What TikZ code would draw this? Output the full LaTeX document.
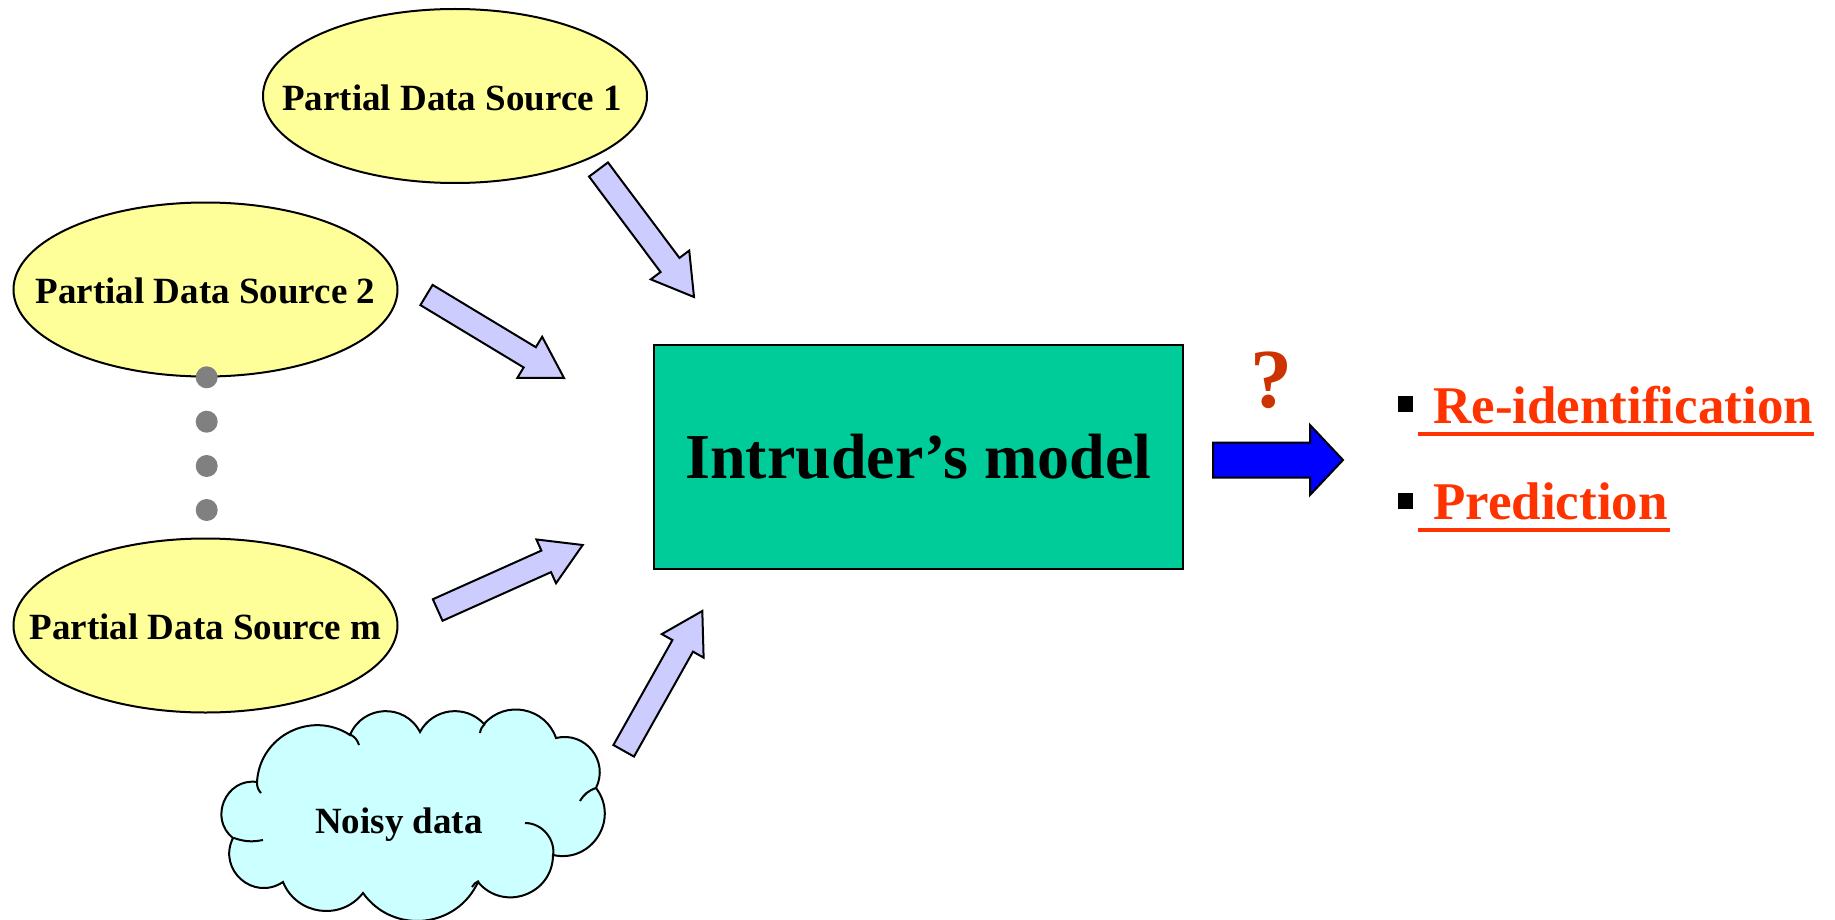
\documentclass[tikz,border=0pt]{standalone}
\usepackage{fontspec}
\setmainfont{Liberation Serif}[Ligatures=NoCommon]
\usetikzlibrary{calc,shapes.geometric}

\definecolor{sourceyellow}{HTML}{FFFF99}
\definecolor{modelgreen}{HTML}{00CC99}
\definecolor{feedlilac}{HTML}{CCCCFF}
\definecolor{cloudcyan}{HTML}{CCFFFF}
\definecolor{dotgrey}{HTML}{808080}
\definecolor{outblue}{HTML}{0000FF}
\definecolor{askbrown}{HTML}{CC3300}
\definecolor{resultred}{HTML}{FF3300}

% block arrow: [style]{tail}{tip}{half shaft width}{half head width}{head length}
\newcommand\blockarrow[6][]{%
  \coordinate (#2-base) at ($(#3)!#6!(#2)$);
  \draw[#1] ($(#2)!#4!90:(#3)$) -- ($(#2-base)!#4!90:(#3)$)
    -- ($(#2-base)!#5!90:(#3)$) -- (#3)
    -- ($(#2-base)!#5!-90:(#3)$) -- ($(#2-base)!#4!-90:(#3)$)
    -- ($(#2)!#4!-90:(#3)$) -- cycle;}

\begin{document}
\begin{tikzpicture}[x=1pt, y=-1pt,
  source/.style={ellipse, draw=black, line width=2pt, fill=sourceyellow,
    minimum width=384pt, minimum height=174pt, inner sep=0pt},
  sourcelabel/.style={font=\fontsize{37}{44}\selectfont\bfseries,
    inner sep=0pt, text height=25pt, text depth=0pt},
  stackdot/.style={circle, fill=dotgrey, minimum size=22pt, inner sep=0pt},
  modelbox/.style={rectangle, draw=black, line width=2.5pt, fill=modelgreen,
    minimum width=529pt, minimum height=224pt, inner sep=0pt,
    font=\fontsize{64}{72}\selectfont\bfseries},
  feedarrow/.style={draw=black, line width=2pt, fill=feedlilac},
  outarrow/.style={draw=black, line width=2pt, fill=outblue},
  cloudshape/.style={draw=black, line width=2pt, fill=cloudcyan},
  cloudfold/.style={draw=black, line width=2pt},
  asklabel/.style={font=\fontsize{84}{90}\selectfont\bfseries, text=askbrown,
    inner sep=0pt, anchor=base},
  resultlabel/.style={font=\fontsize{53}{60}\selectfont\bfseries, text=resultred,
    inner sep=0pt, anchor=base west},
  resultrule/.style={draw=resultred, line width=4pt},
  bulletsq/.style={rectangle, fill=black, minimum width=15pt, minimum height=16pt,
    inner sep=0pt},
]
\useasboundingbox (0,0) rectangle (1835,920);

% data sources
\node[source] (s1) at (455,96) {};
\node[sourcelabel] (s1label) at ($(s1)+(-3,2)$) {Partial Data Source 1};
\node[source] (s2) at (205.5,289.5) {};
\node[sourcelabel] (s2label) at ($(s2)+(0,1)$) {Partial Data Source 2};
\node[source] (sm) at (205.5,625.5) {};
\node[sourcelabel] (smlabel) at ($(sm)+(0,1)$) {Partial Data Source m};

% vertical ellipsis between the sources
\node[stackdot] (d1) at (206.7,377.3) {};
\node[stackdot] (d2) at (206.7,421.7) {};
\node[stackdot] (d3) at (206.7,466) {};
\node[stackdot] (d4) at (206.7,510) {};

% noisy data cloud
\draw[cloudshape] (233,838)
  to[bend left=75, looseness=1.32] (257,782)
  to[bend left=60, looseness=1.135] (350,735)
  to[bend left=65, looseness=1.2] (420,732)
  to[bend left=55, looseness=1.08] (484,724)
  to[bend left=60, looseness=1.135] (556,738)
  to[bend left=65, looseness=1.2] (596,788)
  to[bend left=70, looseness=1.27] (553,855)
  to[bend left=70, looseness=1.27] (478,882)
  to[bend left=60, looseness=1.135] (363,893)
  to[bend left=60, looseness=1.135] (283,882)
  to[bend left=75, looseness=1.36] (233,838) -- cycle;
\draw[cloudfold] (263,840) to[bend left=15] (234,838);
\draw[cloudfold] (261,793) to[bend left=20] (257,783);
\draw[cloudfold] (349,734) to[bend left=25] (359,745);
\draw[cloudfold] (480,733) to[bend left=20] (485,724);
\draw[cloudfold] (580,801) to[bend left=20] (596,788);
\draw[cloudfold] (525,823) to[bend left=50] (553,856);
\draw[cloudfold] (472,887) to[bend left=20] (479,881);
\node[sourcelabel] (noisy) at (399,820.5) {Noisy data};

% intruder's model
\node[modelbox] (model) at (918.5,457) {Intruder’s model};

% inputs into the model
\coordinate (f1t) at (598.5,169.5); \coordinate (f1h) at (694,297);
\coordinate (f2t) at (426.5,295);   \coordinate (f2h) at (564,378);
\coordinate (f3t) at (437.7,610);   \coordinate (f3h) at (582.7,545);
\coordinate (f4t) at (623.7,750.8); \coordinate (f4h) at (702.3,611);
\blockarrow[feedarrow]{f1t}{f1h}{11.8pt}{24pt}{40pt}
\blockarrow[feedarrow]{f2t}{f2h}{11.8pt}{24pt}{40pt}
\blockarrow[feedarrow]{f3t}{f3h}{11.8pt}{24pt}{40pt}
\blockarrow[feedarrow]{f4t}{f4h}{11.8pt}{24pt}{40pt}

% output
\coordinate (ot) at (1213,460); \coordinate (oh) at (1343,460);
\blockarrow[outarrow]{ot}{oh}{17.5pt}{35pt}{33pt}
\node[asklabel] (ask) at (1271,407) {?};

\node[bulletsq] (b1) at (1405.5,404) {};
\node[resultlabel] (r1) at (1433,423) {Re-identification};
\draw[resultrule] ($(r1.base west)+(-15,11)$) -- ($(r1.base east)+(1,11)$);
\node[bulletsq] (b2) at (1405.5,500.5) {};
\node[resultlabel] (r2) at (1433,519) {Prediction};
\draw[resultrule] ($(r2.base west)+(-15,10.5)$) -- ($(r2.base east)+(2,10.5)$);
\end{tikzpicture}
\end{document}
